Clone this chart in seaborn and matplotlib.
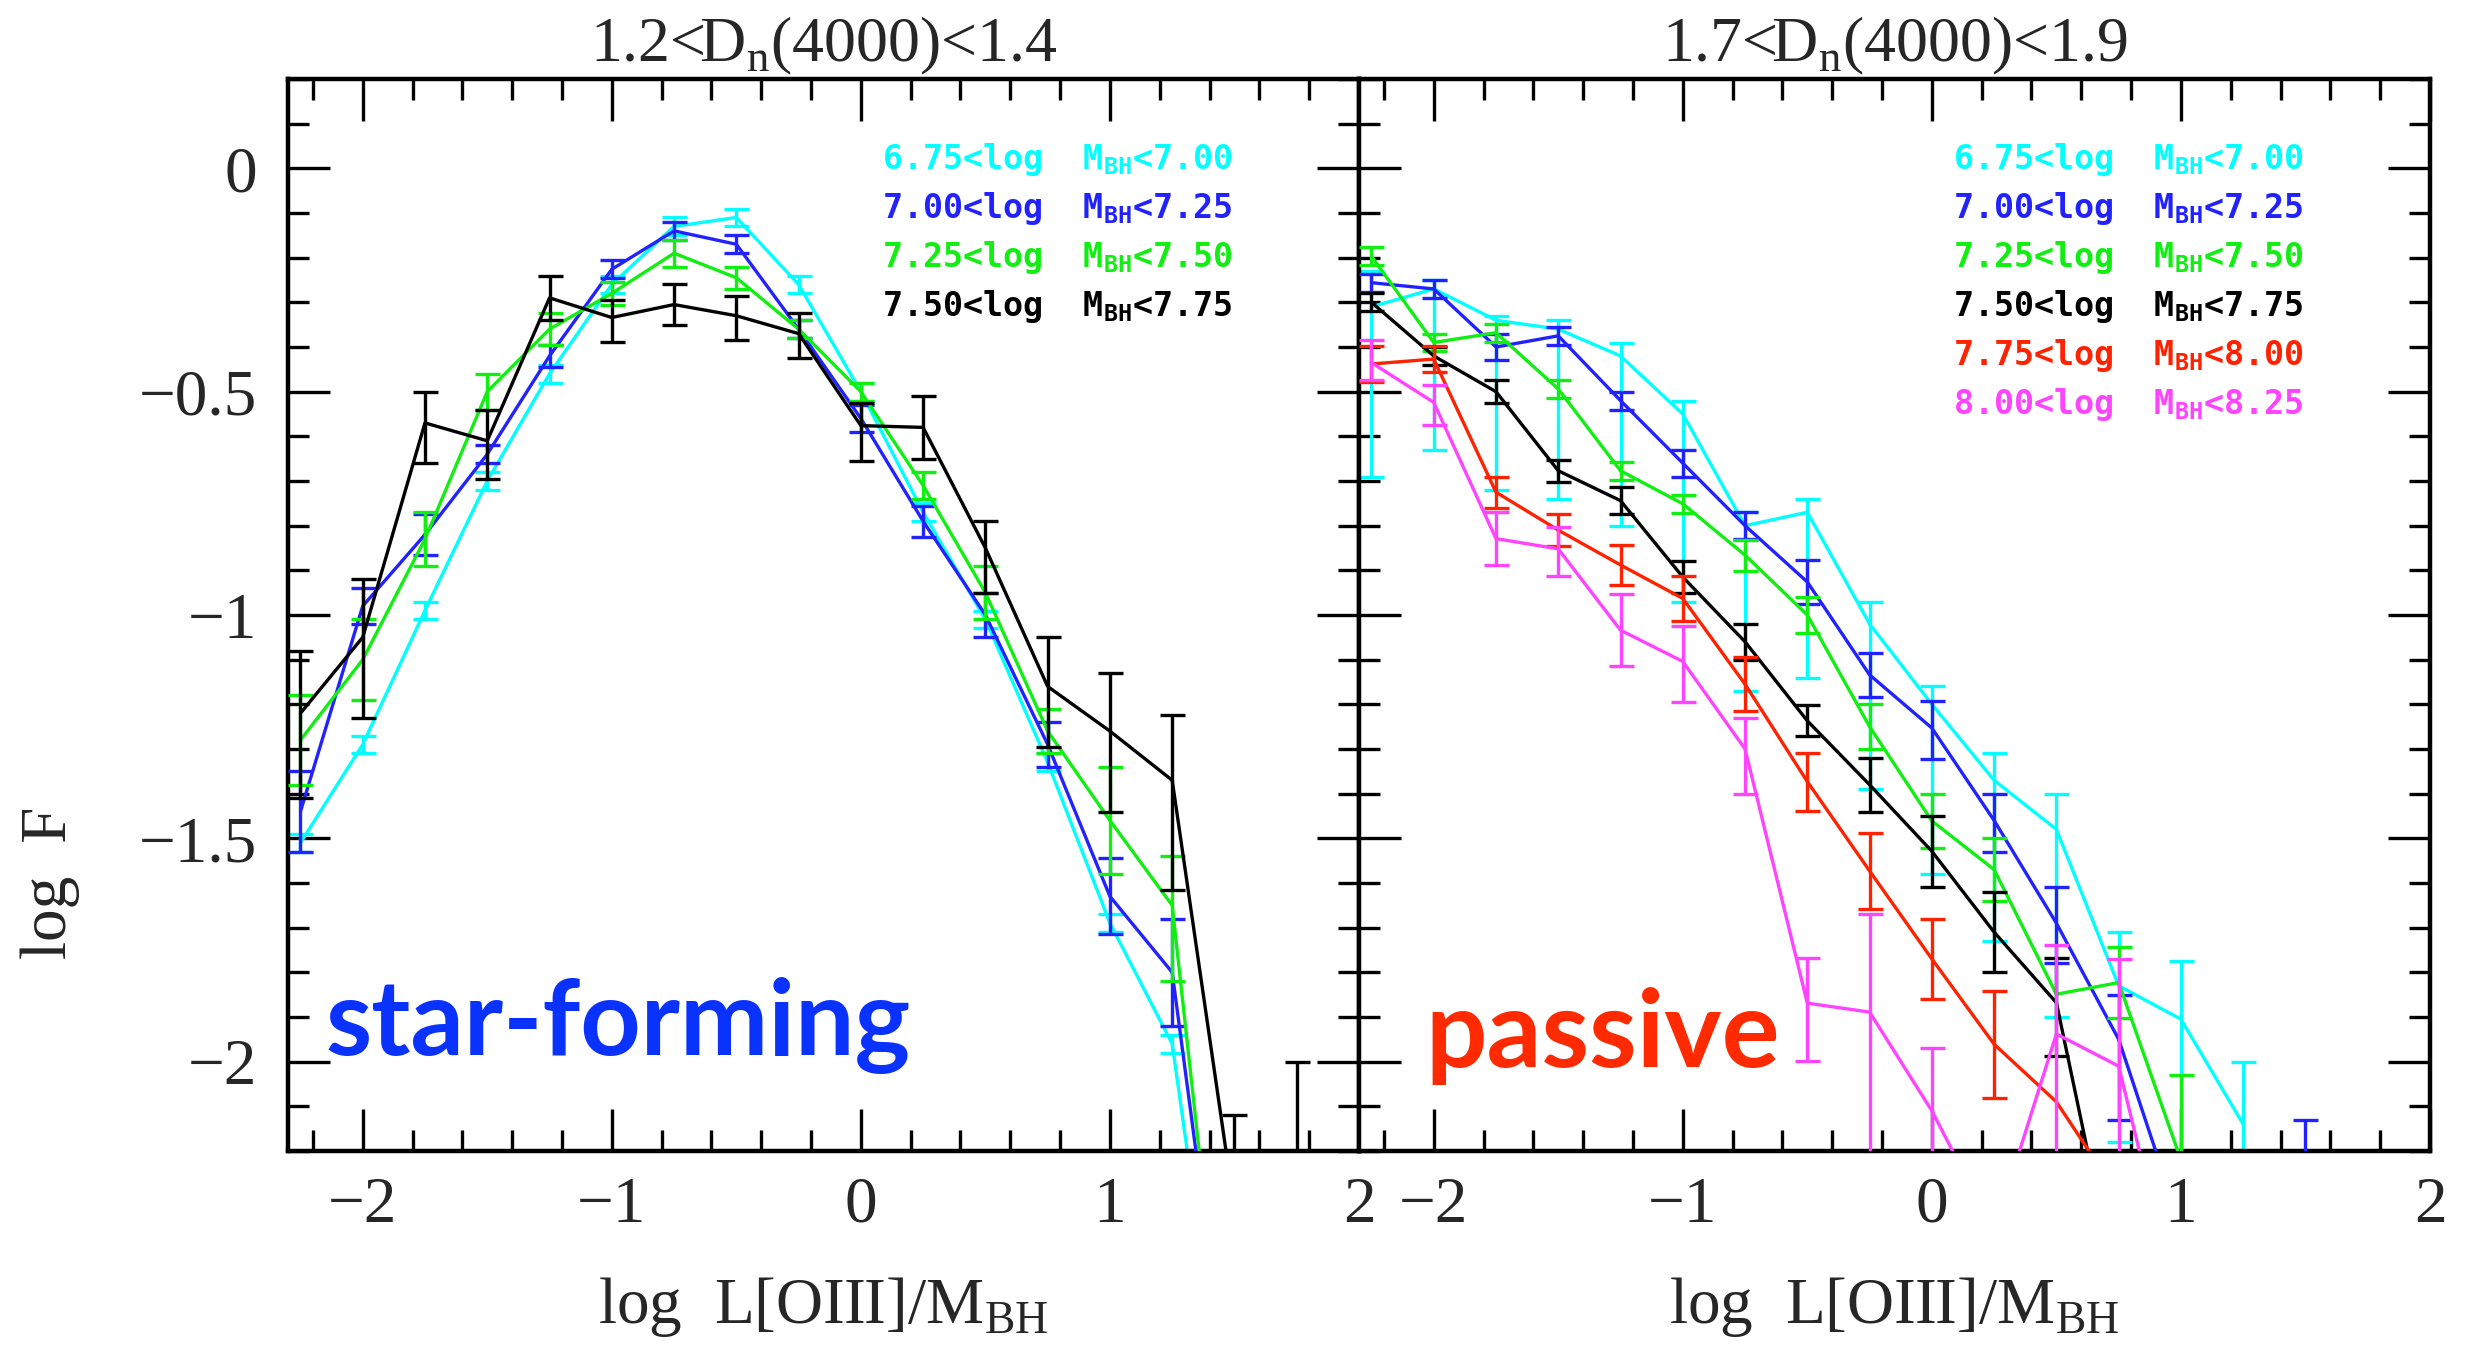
import numpy as np
import pandas as pd
import matplotlib
matplotlib.use("Agg")
import matplotlib.pyplot as plt
from matplotlib.ticker import MultipleLocator, FixedLocator, FixedFormatter
import seaborn as sns

nan = np.nan

# ---------------- data ----------------
bins_sf = ["6.75-7.00", "7.00-7.25", "7.25-7.50", "7.50-7.75"]
bins_pa = ["6.75-7.00", "7.00-7.25", "7.25-7.50", "7.50-7.75", "7.75-8.00", "8.00-8.25"]
legend_sf = [r"6.75<log  M$_{\mathsf{BH}}$<7.00", r"7.00<log  M$_{\mathsf{BH}}$<7.25",
             r"7.25<log  M$_{\mathsf{BH}}$<7.50", r"7.50<log  M$_{\mathsf{BH}}$<7.75"]
legend_pa = legend_sf + [r"7.75<log  M$_{\mathsf{BH}}$<8.00", r"8.00<log  M$_{\mathsf{BH}}$<8.25"]

x_sf = [-2.25, -2.0, -1.75, -1.5, -1.25, -1.0, -0.75, -0.5, -0.25, 0.0, 0.25, 0.5, 0.75, 1.0, 1.25, 1.5, 1.75]
x_pa = [-2.25, -2.0, -1.75, -1.5, -1.25, -1.0, -0.75, -0.5, -0.25, 0.0, 0.25, 0.5, 0.75, 1.0, 1.25, 1.5]

# star-forming panel
sf_cyan = [-1.51, -1.29, -0.99, -0.70, -0.46, -0.26, -0.13, -0.11, -0.26, -0.50, -0.77, -1.01, -1.33, -1.69, -1.96, -2.95, nan]
sf_cyan_lo = [0.02] * 15 + [0, 0]
sf_cyan_up = [0.02] * 15 + [0, 0]
sf_blue = [-1.44, -0.98, -0.82, -0.64, -0.42, -0.226, -0.14, -0.17, -0.36, -0.56, -0.79, -1.00, -1.29, -1.63, -1.80, -2.85, nan]
sf_blue_lo = [0.09, 0.04, 0.045, 0.02, 0.025, 0.02, 0.02, 0.02, 0.02, 0.03, 0.035, 0.05, 0.05, 0.085, 0.12, 0, 0]
sf_blue_up = [0.09, 0.04, 0.045, 0.02, 0.025, 0.02, 0.02, 0.02, 0.02, 0.03, 0.035, 0.05, 0.05, 0.085, 0.12, 0, 0]
sf_green = [-1.28, -1.10, -0.83, -0.50, -0.36, -0.28, -0.19, -0.245, -0.36, -0.50, -0.71, -0.95, -1.26, -1.46, -1.65, -2.92, nan]
sf_green_lo = [0.10, 0.09, 0.06, 0.04, 0.035, 0.025, 0.03, 0.025, 0.02, 0.02, 0.03, 0.06, 0.05, 0.12, 0.17, 0, 0]
sf_green_up = [0.10, 0.09, 0.06, 0.04, 0.035, 0.025, 0.03, 0.025, 0.02, 0.02, 0.03, 0.06, 0.05, 0.12, 0.11, 0, 0]
sf_black = [-1.22, -1.05, -0.57, -0.61, -0.29, -0.334, -0.305, -0.33, -0.37, -0.576, -0.58, -0.85, -1.16, -1.26, -1.37, -2.33, -2.50]
sf_black_lo = [0.19, 0.18, 0.09, 0.085, 0.05, 0.055, 0.045, 0.055, 0.055, 0.08, 0.07, 0.10, 0.135, 0.18, 0.245, 0.2, 0.2]
sf_black_up = [0.14, 0.13, 0.07, 0.07, 0.05, 0.04, 0.045, 0.045, 0.045, 0.05, 0.07, 0.06, 0.11, 0.13, 0.146, 0.21, 0.50]

# passive panel
pa_cyan = [-0.31, -0.27, -0.34, -0.36, -0.42, -0.55, -0.80, -0.77, -1.02, -1.20, -1.37, -1.48, -1.83, -1.905, -2.14, nan]
pa_cyan_lo = [0.38, 0.36, 0.38, 0.38, 0.38, 0.42, 0.37, 0.37, 0.37, 0.38, 0.36, 0.42, 0.35, 0.35, 0.30, 0]
pa_cyan_up = [0.08, 0.02, 0.01, 0.02, 0.03, 0.03, 0.03, 0.03, 0.05, 0.04, 0.06, 0.08, 0.12, 0.13, 0.14, 0]
pa_blue = [-0.256, -0.27, -0.40, -0.375, -0.52, -0.66, -0.80, -0.926, -1.134, -1.253, -1.46, -1.69, -1.95, -2.37, -2.60, -2.45]
pa_blue_lo = [0.02, 0.02, 0.03, 0.02, 0.02, 0.03, 0.03, 0.05, 0.05, 0.07, 0.07, 0.09, 0.18, 0, 0, 0.10]
pa_blue_up = [0.02, 0.02, 0.03, 0.02, 0.02, 0.03, 0.03, 0.05, 0.05, 0.06, 0.06, 0.08, 0.10, 0, 0, 0.32]
pa_green = [-0.197, -0.39, -0.368, -0.494, -0.677, -0.751, -0.866, -1.00, -1.25, -1.461, -1.57, -1.849, -1.823, -2.22, nan, nan]
pa_green_lo = [0.02, 0.02, 0.02, 0.02, 0.02, 0.02, 0.035, 0.04, 0.05, 0.06, 0.07, 0, 0.08, 0, 0, 0]
pa_green_up = [0.02, 0.02, 0.02, 0.02, 0.02, 0.02, 0.035, 0.04, 0.05, 0.06, 0.07, 0, 0.08, 0.19, 0, 0]
pa_black = [-0.30, -0.42, -0.50, -0.677, -0.744, -0.915, -1.06, -1.237, -1.38, -1.529, -1.71, -1.868, -2.53, nan, nan, nan]
pa_black_lo = [0.02, 0.02, 0.025, 0.025, 0.03, 0.035, 0.04, 0.035, 0.06, 0.08, 0.09, 0.12, 0, 0, 0, 0]
pa_black_up = [0.02, 0.02, 0.025, 0.025, 0.03, 0.035, 0.04, 0.035, 0.06, 0.08, 0.09, 0.10, 0, 0, 0, 0]
pa_red = [-0.438, -0.427, -0.725, -0.81, -0.888, -0.963, -1.155, -1.373, -1.573, -1.770, -1.961, -2.09, -2.30, nan, nan, nan]
pa_red_lo = [0.04, 0.03, 0.035, 0.035, 0.045, 0.05, 0.06, 0.065, 0.085, 0.09, 0.12, 0, 0, 0, 0, 0]
pa_red_up = [0.04, 0.03, 0.035, 0.035, 0.045, 0.05, 0.06, 0.065, 0.085, 0.09, 0.12, 0, 0, 0, 0, 0]
pa_mag = [-0.435, -0.524, -0.829, -0.852, -1.034, -1.104, -1.30, -1.869, -1.889, -2.11, -2.38, -1.938, -2.01, -2.58, nan, nan]
pa_mag_lo = [0.04, 0.05, 0.06, 0.06, 0.08, 0.09, 0.10, 0.13, 0.50, 0.50, 0, 0.60, 0.50, 0, 0, 0]
pa_mag_up = [0.05, 0.04, 0.06, 0.05, 0.08, 0.08, 0.07, 0.10, 0.22, 0.14, 0, 0.20, 0.24, 0, 0, 0]

xticks = [-2, -1, 0, 1, 2]
xticklabels = ["\u22122", "\u22121", "0", "1", "2"]
yticks = [0, -0.5, -1, -1.5, -2]
yticklabels = ["0", "\u22120.5", "\u22121", "\u22121.5", "\u22122"]

titles = [r"1.2<D$_{\rm n}$(4000)<1.4", r"1.7<D$_{\rm n}$(4000)<1.9"]
xlabel = r"log  L[OIII]/M$_{\rm BH}$"
ylabel = "log  F"
panel_labels = ["star-forming", "passive"]

colors = ["#00ffff", "#2222ff", "#11ee11", "#000000", "#ff2200", "#ff44ff"]

# ---------------- figure ----------------
sns.set_style("white")
plt.rcParams["font.family"] = ["Liberation Serif", "DejaVu Serif"]
plt.rcParams["mathtext.fontset"] = "custom"
plt.rcParams["mathtext.rm"] = "Liberation Serif"
plt.rcParams["mathtext.sf"] = "DejaVu Sans Mono:bold"

W, H = 2472, 1346
fig = plt.figure(figsize=(W / 100, H / 100), dpi=100)
fig.patch.set_facecolor("white")
axL = fig.add_axes([288 / W, (H - 1151) / H, 1071 / W, 1072 / H])
axR = fig.add_axes([1359 / W, (H - 1151) / H, 1071 / W, 1072 / H])


def build(xs, series, names):
    rows = []
    for name, ys in zip(names, series):
        for xv, yv in zip(xs, ys):
            if not np.isnan(yv):
                rows.append({"x": xv, "y": yv, "bin": name})
    return pd.DataFrame(rows)


sf_series = [sf_cyan, sf_blue, sf_green, sf_black]
sf_lo = [sf_cyan_lo, sf_blue_lo, sf_green_lo, sf_black_lo]
sf_up = [sf_cyan_up, sf_blue_up, sf_green_up, sf_black_up]
pa_series = [pa_cyan, pa_blue, pa_green, pa_black, pa_red, pa_mag]
pa_lo = [pa_cyan_lo, pa_blue_lo, pa_green_lo, pa_black_lo, pa_red_lo, pa_mag_lo]
pa_up = [pa_cyan_up, pa_blue_up, pa_green_up, pa_black_up, pa_red_up, pa_mag_up]

panels = [
    (axL, x_sf, sf_series, sf_lo, sf_up, bins_sf, legend_sf),
    (axR, x_pa, pa_series, pa_lo, pa_up, bins_pa, legend_pa),
]

for ax, xs, series, los, ups, names, legs in panels:
    df = build(xs, series, names)
    pal = dict(zip(names, colors[: len(names)]))
    for i, (name, ys, lo, up) in enumerate(zip(names, series, los, ups)):
        xs_a = np.array(xs, float)
        ys_a = np.array(ys, float)
        lo_a = np.array(lo, float)
        up_a = np.array(up, float)
        m = (~np.isnan(ys_a)) & ((lo_a > 0) | (up_a > 0))
        ax.errorbar(xs_a[m], ys_a[m], yerr=[lo_a[m], up_a[m]], fmt="none",
                    ecolor=pal[name], elinewidth=2.4, capsize=9, capthick=2.4,
                    zorder=2 + i)
        sub = df[df["bin"] == name]
        sns.lineplot(data=sub, x="x", y="y", color=pal[name], ax=ax,
                     legend=False, linewidth=2.4, errorbar=None, sort=True,
                     zorder=2 + i)

    ax.set_xlim(-2.3, 2.0)
    ax.set_ylim(-2.2, 0.2)
    ax.xaxis.set_major_locator(FixedLocator(xticks))
    ax.xaxis.set_major_formatter(FixedFormatter(xticklabels))
    ax.xaxis.set_minor_locator(MultipleLocator(0.2))
    ax.yaxis.set_major_locator(FixedLocator(yticks))
    ax.yaxis.set_minor_locator(MultipleLocator(0.1))
    ax.tick_params(which="both", direction="in", top=True, right=True,
                   bottom=True, left=True, width=2.4, color="black")
    ax.tick_params(which="major", length=30, labelsize=47)
    ax.tick_params(axis="x", which="major", pad=18)
    ax.tick_params(axis="y", which="major", pad=22)
    ax.tick_params(which="minor", length=15)
    for sp in ax.spines.values():
        sp.set_linewidth(3.2)
        sp.set_color("black")
    ax.set_xlabel("")
    ax.set_ylabel("")
    for j, txt in enumerate(legs):
        ax.text(0.085, -0.0015 - 0.1097 * j, txt, color=colors[j], fontsize=24,
                family="DejaVu Sans Mono", fontweight="bold",
                ha="left", va="baseline", zorder=20)

axL.yaxis.set_major_formatter(FixedFormatter(yticklabels))
axR.yaxis.set_major_formatter(FixedFormatter([""] * len(yticks)))

for ax, t in zip([axL, axR], titles):
    ax.text(0.5, 1.016, t, transform=ax.transAxes, ha="center", va="baseline",
            fontsize=46)
    ax.text(0.5, -0.16, xlabel, transform=ax.transAxes, ha="center",
            va="baseline", fontsize=47)

fig.text(50 / W, 0.344, ylabel, rotation=90, ha="center", va="center", fontsize=47)

axL.text(-2.15, -1.984, panel_labels[0], color="#0a32ff", fontsize=76,
         family=["Lato", "DejaVu Sans"], fontweight="bold", ha="left",
         va="baseline", zorder=30)
axR.text(-2.035, -2.011, panel_labels[1], color="#ff2a00", fontsize=78,
         family=["Lato", "DejaVu Sans"], fontweight="bold", ha="left",
         va="baseline", zorder=30)

fig.savefig("out.png", dpi=100, facecolor="white")
